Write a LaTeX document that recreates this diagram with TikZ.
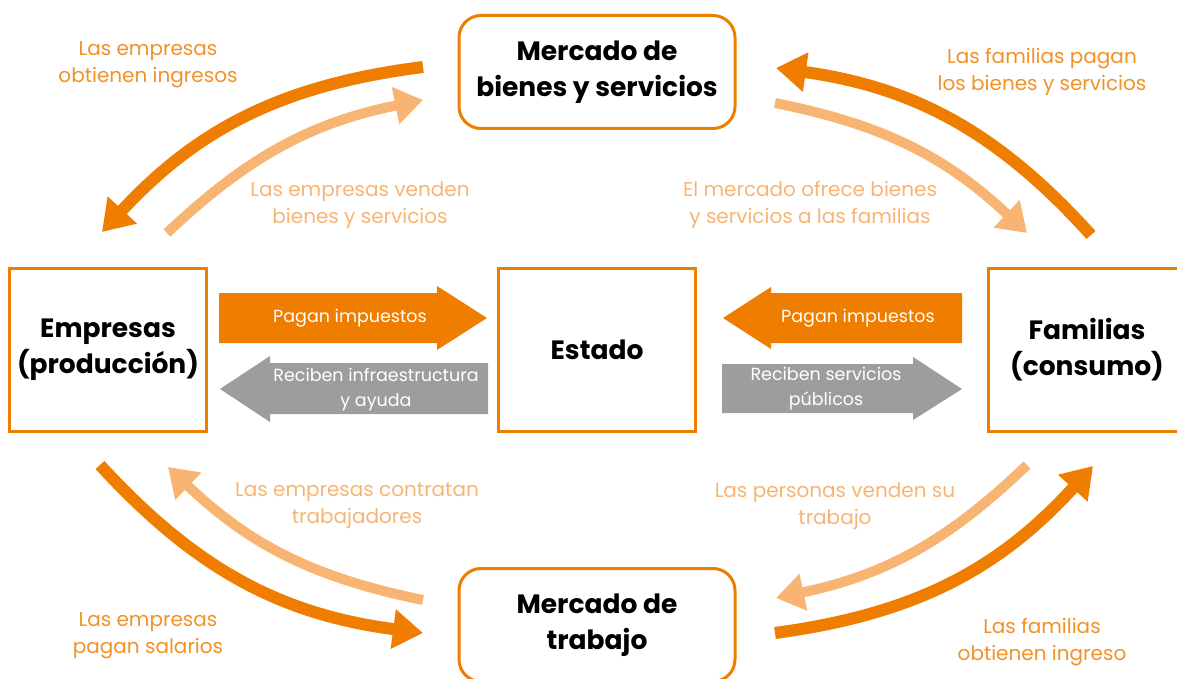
\documentclass[tikz,border=0pt]{standalone}
\usepackage{fontspec}
\setmainfont{Poppins}
\usetikzlibrary{arrows.meta, calc, positioning}

\definecolor{orgdark}{HTML}{EF7D00}
\definecolor{orglight}{HTML}{F7B473}
\definecolor{grayarr}{HTML}{9D9D9C}

\begin{document}
\begin{tikzpicture}[
    x=1pt, y=-1pt,
    box/.style={rectangle, draw=orgdark, line width=3pt, inner sep=0pt,
        minimum width=197pt, minimum height=163pt, align=center,
        font=\fontsize{26.5}{36}\selectfont\bfseries},
    market/.style={box, rounded corners=22pt, minimum width=276pt, minimum height=113pt},
    note/.style={align=center, font=\fontsize{20}{27}\selectfont},
    outer/.style={note, text=orgdark!85},
    inner/.style={note, text=orglight},
    tag/.style={align=center, text=white, font=\fontsize{17.5}{25}\selectfont},
    flow/.style={line width=12pt, draw=orgdark, -{Triangle[length=30pt, width=38pt]}},
    back/.style={line width=10pt, draw=orglight, -{Triangle[length=28pt, width=36pt]}}
]
    \clip[use as bounding box] (0,0) rectangle (1177,679);

    % Nodes ------------------------------------------------------

    \node[market] (goods) at (597,72) {Mercado de\\bienes y servicios};
    \node[market] (labour) at (597,625) {Mercado de\\trabajo};
    \node[box] (firms) at (108,350) {Empresas\\(producción)};
    \node[box] (state) at (597,350) {Estado};
    \node[box] (homes) at (1087,350) {Familias\\(consumo)};

    % Labels
    \node[outer] (l1) at (148,65) {Las empresas\\obtienen ingresos};
    \node[inner] (l2) at (360,205) {Las empresas venden\\bienes y servicios};
    \node[outer] (l3) at (1042,72) {Las familias pagan\\los bienes y servicios};
    \node[inner] (l4) at (810,205) {El mercado ofrece bienes\\y servicios a las familias};
    \node[inner] (l5) at (357,506) {Las empresas contratan\\trabajadores};
    \node[outer] (l6) at (148,636) {Las empresas\\pagan salarios};
    \node[inner] (l7) at (835,506) {Las personas venden su\\trabajo};
    \node[outer] (l8) at (1042,642) {Las familias\\obtienen ingreso};

    % Arrow ends
    \coordinate (a1) at (423,67);   \coordinate (b1) at (102,232);
    \coordinate (a2) at (167,233);  \coordinate (b2) at (423,100);
    \coordinate (a3) at (1091,235); \coordinate (b3) at (776,68);
    \coordinate (a4) at (775,103);  \coordinate (b4) at (1027,233);
    \coordinate (a5) at (100,465);  \coordinate (b5) at (423,633);
    \coordinate (a6) at (423,600);  \coordinate (b6) at (168,467);
    \coordinate (a7) at (775,633);  \coordinate (b7) at (1093,466);
    \coordinate (a8) at (1027,465); \coordinate (b8) at (776,598);

    % Arrows ---------------------------------------------------

    % Money flows
    \draw[flow] (a1) to[bend right=20] (b1);
    \draw[flow] (a3) to[bend right=20] (b3);
    \draw[flow] (a5) to[bend right=20] (b5);
    \draw[flow] (a7) to[bend right=20] (b7);

    % Goods and work flows
    \draw[back] (a2) to[bend left=16] (b2);
    \draw[back] (a4) to[bend left=16] (b4);
    \draw[back] (a6) to[bend left=16] (b6);
    \draw[back] (a8) to[bend left=16] (b8);

    % State arrows
    \fill[orgdark] (219,293) -- (437,293) -- (437,286) -- (487,318) -- (437,350) -- (437,343) -- (219,343) -- cycle;
    \fill[grayarr] (488,363) -- (270,363) -- (270,356) -- (220,389) -- (270,422) -- (270,414) -- (488,414) -- cycle;
    \fill[orgdark] (962,293) -- (771,293) -- (771,287) -- (723,318) -- (771,349) -- (771,343) -- (962,343) -- cycle;
    \fill[grayarr] (722,364) -- (913,364) -- (913,357) -- (962,389) -- (913,420) -- (913,413) -- (722,413) -- cycle;

    \node[tag] (t1) at (350,318) {Pagan impuestos};
    \node[tag] (t2) at (376,390) {Reciben infraestructura\\y ayuda};
    \node[tag] (t3) at (858,318) {Pagan impuestos};
    \node[tag] (t4) at (826,389) {Reciben servicios\\públicos};

\end{tikzpicture}
\end{document}
